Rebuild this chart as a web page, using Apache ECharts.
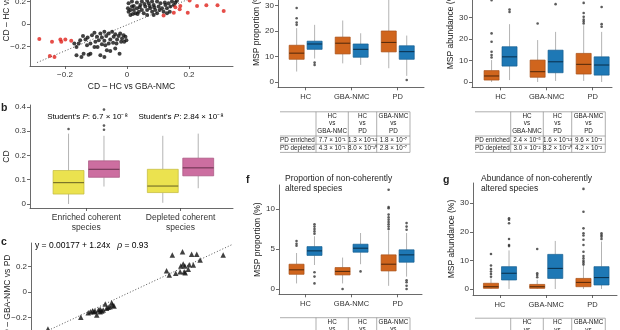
<!DOCTYPE html>
<html>
<head>
<meta charset="utf-8">
<script src="https://cdn.jsdelivr.net/npm/echarts@6/dist/echarts.min.js"></script>
<style>
  html, body { margin: 0; padding: 0; background: #fff; }
  #chart { width: 620px; height: 330px; }
</style>
</head>
<body>
<div id="chart"></div>
<script>
const FONT = '"Liberation Sans", Arial, Helvetica, sans-serif';

// ---------- panel a: CD per species, HC vs GBA-NMC (x) against HC vs PD (y) ----------
const aBlackPts = [
  [-0.170,-0.173],[-0.163,-0.203],[-0.156,-0.173],[-0.151,-0.143],[-0.142,-0.107],[-0.134,-0.137],
  [-0.127,-0.119],[-0.118,-0.173],[-0.113,-0.099],[-0.105,-0.078],[-0.097,-0.113],[-0.091,-0.143],
  [-0.086,-0.084],[-0.081,-0.119],[-0.073,-0.069],[-0.067,-0.107],[-0.059,-0.084],[-0.054,-0.137],
  [-0.048,-0.069],[-0.043,-0.113],[-0.038,-0.090],[-0.032,-0.137],[-0.027,-0.107],[-0.022,-0.084],
  [-0.016,-0.128],[-0.011,-0.099],[-0.005,-0.113],[-0.002,-0.143],[-0.009,-0.158],[-0.019,-0.158],
  [-0.034,-0.173],[-0.045,-0.167],[-0.059,-0.173],[-0.070,-0.188],[-0.081,-0.179],[-0.095,-0.203],
  [-0.105,-0.203],[-0.118,-0.263],[-0.140,-0.263],[-0.163,-0.278],[-0.147,-0.293],[-0.124,-0.272],
  [-0.086,-0.278],[-0.073,-0.293],[-0.054,-0.239],[-0.024,-0.263],[-0.065,-0.233],[-0.038,-0.218],
  [-0.073,-0.149],[-0.102,-0.158],[-0.129,-0.188],
  [0.003,0.140],[0.005,0.110],[0.011,0.081],[0.016,0.155],[0.022,0.125],[0.027,0.096],[0.032,0.140],
  [0.038,0.110],[0.043,0.170],[0.048,0.125],[0.054,0.096],[0.059,0.155],[0.065,0.125],[0.070,0.185],
  [0.075,0.140],[0.081,0.110],[0.086,0.170],[0.091,0.125],[0.097,0.096],[0.102,0.155],[0.108,0.185],
  [0.113,0.140],[0.118,0.110],[0.124,0.170],[0.129,0.140],[0.134,0.185],[0.140,0.155],[0.145,0.200],
  [0.151,0.170],[0.156,0.191],[0.161,0.206],[0.097,0.200],[0.081,0.200],[0.065,0.206],[0.048,0.200],
  [0.032,0.191],[0.016,0.200],[0.005,0.185],[0.019,0.090],[0.034,0.090],[0.065,0.081],[0.086,0.081],
  [0.129,0.096],[0.138,0.110],[0.011,0.125],[0.022,0.161],[0.041,0.149],[0.056,0.179],[0.073,0.161],
  [0.088,0.149],[0.105,0.125],[0.122,0.191]
];
const aRedPts = [
  [-0.283,-0.134],[-0.242,-0.158],[-0.215,-0.137],[-0.212,-0.158],[-0.199,-0.137],[-0.180,-0.149],
  [-0.249,-0.284],[-0.234,-0.293],
  [0.118,0.075],[0.151,0.101],[0.156,0.149],[0.172,0.161],[0.170,0.131],[0.196,0.101],[0.202,0.209],
  [0.226,0.161],[0.256,0.167],[0.292,0.167],[0.312,0.116]
];
const aTrend = [[-0.29, -0.342], [0.21, 0.234]];

// ---------- panel b: CD of coherent species ----------
const bCats = ['Enriched coherent\nspecies', 'Depleted coherent\nspecies'];
const bPvalues = ['6.7 × 10⁻⁸', '2.84 × 10⁻⁸'];
// [min, Q1, median, Q3, max]
const bYellow = [[0.000, 0.041, 0.088, 0.138, 0.290], [0.005, 0.047, 0.074, 0.143, 0.281]];
const bYellowOut = [[0.309], []];
const bPink = [[0.072, 0.110, 0.143, 0.178, 0.281], [0.065, 0.116, 0.149, 0.189, 0.290]];
const bPinkOut = [[0.306, 0.323, 0.389], []];

// ---------- panel c: CD GBA-NMC vs PD ----------
const cPts = [
  [-0.245,-0.290],
  [-0.148,-0.198],[-0.126,-0.162],[-0.119,-0.154],[-0.113,-0.146],[-0.109,-0.154],[-0.106,-0.149],
  [-0.101,-0.180],[-0.096,-0.141],[-0.091,-0.154],[-0.091,-0.136],[-0.086,-0.149],[-0.082,-0.141],
  [-0.076,-0.094],[-0.072,-0.128],[-0.067,-0.120],[-0.062,-0.115],[-0.057,-0.084],[-0.054,-0.102],
  [-0.050,-0.110],
  [0.105,0.167],[0.113,0.133],[0.122,0.290],[0.132,0.147],[0.145,0.159],[0.147,0.204],[0.152,0.316],
  [0.154,0.220],[0.157,0.159],[0.159,0.204],[0.160,0.150],[0.169,0.178],[0.172,0.214],[0.179,0.296],
  [0.184,0.212],[0.194,0.296],[0.204,0.251],[0.272,0.290]
];
const cFit = { intercept: 0.00177, slope: 1.24, rho: 0.93 };

// ---------- panels d-g: MSP proportion / abundance per group ----------
const groups = ['HC', 'GBA-NMC', 'PD'];
// PD-enriched (orange) and PD-depleted (blue) species, [min, Q1, median, Q3, max]
const dEnr = [[4.1, 8.9, 11.3, 14.4, 21.1], [7.3, 11.0, 15.2, 17.6, 24.1], [5.4, 11.8, 15.5, 20.0, 34.0]];
const dEnrOut = [[22.4, 23.3, 25.0, 29.0], [], []];
const dDep = [[9.2, 12.8, 14.9, 16.0, 22.4], [6.7, 9.7, 12.8, 14.9, 19.1], [2.4, 8.9, 11.9, 14.2, 18.2]];
const dDepOut = [[7.6, 6.7], [], [0.8]];

const eEnr = [[0.0, 0.9, 2.8, 5.3, 10.2], [0.0, 2.2, 4.8, 10.2, 19.5], [0.5, 3.7, 8.2, 13.3, 26.4]];
const eEnrOut = [[11.4, 12.5, 14.1, 18.7, 22.6, 38.0], [27.2], [27.2, 28.1, 29.0, 30.3, 32.1, 36.8]];
const eDep = [[0.9, 7.4, 11.7, 16.4, 26.9], [0.5, 4.3, 9.4, 14.8, 23.3], [0.0, 3.2, 7.9, 11.7, 23.3]];
const eDepOut = [[32.6, 33.7], [36.2], [25.7, 26.9, 34.9]];

const fEnr = [[0.7, 1.84, 2.4, 3.1, 4.5], [0.7, 1.76, 2.2, 2.68, 3.93], [0.4, 2.26, 3.1, 4.27, 7.3]];
const fEnrOut = [[5.4, 5.65, 6.0], [0.0], [7.5, 7.8, 8.1, 8.37, 8.66, 8.95, 9.3, 10.1, 10.25, 12.4]];
const fDep = [[3.0, 4.2, 4.77, 5.3, 6.6], [3.1, 4.6, 5.1, 5.6, 7.0], [1.55, 3.35, 4.27, 4.9, 7.0]];
const fDepOut = [[0.7, 1.55, 2.1, 6.9, 7.2, 7.5, 7.8, 8.1], [2.2], [0.0, 0.4, 0.85, 1.1, 7.4, 7.8, 8.24]];

const gEnr = [[0.0, 0.23, 0.8, 2.0, 3.7], [0.0, 0.23, 0.8, 1.6, 3.2], [0.0, 0.8, 2.3, 3.7, 8.4]];
const gEnrOut = [[4.3, 5.25, 6.1, 7.0, 8.2, 12.25], [4.1, 4.9, 5.5, 14.0],
  [8.6, 9.3, 9.9, 10.7, 11.5, 13.0, 15.4, 17.2, 18.7, 19.5, 21.2, 27.0, 35.0]];
const gDep = [[0.0, 3.15, 5.5, 7.8, 13.5], [0.0, 3.7, 7.2, 12.1, 16.8], [0.0, 1.4, 4.0, 7.8, 16.6]];
const gDepOut = [[15.0, 15.4, 17.5, 23.0, 24.2, 24.7], [], [17.5, 18.3, 18.9, 19.5]];

// ---------- tables of P values ----------
const tableCols = [['HC', 'vs', 'GBA-NMC'], ['HC', 'vs', 'PD'], ['GBA-NMC', 'vs', 'PD']];
const tableRows = ['PD enriched', 'PD depleted'];
const dPvals = [['7.7 × 10⁻¹', '1.3 × 10⁻¹¹', '1.8 × 10⁻⁷'], ['4.3 × 10⁻¹', '8.0 × 10⁻¹⁰', '2.8 × 10⁻⁷']];
const ePvals = [['2.4 × 10⁻⁵', '1.6 × 10⁻¹³', '9.6 × 10⁻²'], ['3.0 × 10⁻²', '8.2 × 10⁻¹⁰', '4.2 × 10⁻²']];

// ---------- styling ----------
const ORANGE = { fill: '#d0651d', stroke: '#a84f16', median: '#5a2c0c' };
const BLUE = { fill: '#1e78b5', stroke: '#155f90', median: '#0b3452' };
const YELLOW = { fill: '#ebe24f', stroke: '#c2b93c', median: '#6f6a26' };
const PINK = { fill: '#cc6ea0', stroke: '#a8557f', median: '#6e3452' };
const AXIS_COLOR = '#444';

function numFmt(v) {
  if (v === 0) return '0';
  return (v < 0 ? '−' : '') + String(Math.abs(v));
}

function makeAxis(gridIndex, min, max, ticks, o) {
  o = o || {};
  return {
    type: 'value', gridIndex: gridIndex, min: min, max: max,
    splitLine: { show: false },
    axisLine: { show: true, onZero: false, lineStyle: { color: AXIS_COLOR, width: 0.8 } },
    axisTick: { show: o.ticks !== false, length: 3, lineStyle: { color: AXIS_COLOR, width: 0.8 }, customValues: ticks },
    axisLabel: {
      show: o.labels !== false, customValues: ticks, formatter: o.fmt || numFmt,
      color: '#333', fontSize: o.fontSize || 8, fontFamily: FONT,
      margin: o.margin != null ? o.margin : 4, lineHeight: o.lineHeight || 10
    },
    name: o.name || '', nameLocation: 'middle', nameGap: o.nameGap || 19,
    nameRotate: o.nameRotate || 0, nameMoveOverlap: false,
    nameTextStyle: { fontSize: 8.5, color: '#222', fontFamily: FONT }
  };
}

function boxRenderer(c, halfW) {
  return function (params, api) {
    const x = api.value(0);
    const pMin = api.coord([x, api.value(1)]);
    const pQ1 = api.coord([x, api.value(2)]);
    const pMed = api.coord([x, api.value(3)]);
    const pQ3 = api.coord([x, api.value(4)]);
    const pMax = api.coord([x, api.value(5)]);
    const w = api.size([halfW * 2, 0])[0];
    const cx = pQ1[0];
    const whisk = { stroke: '#a0a0a0', lineWidth: 0.8 };
    return {
      type: 'group',
      children: [
        { type: 'line', shape: { x1: cx, y1: pMin[1], x2: cx, y2: pQ1[1] }, style: whisk },
        { type: 'line', shape: { x1: cx, y1: pQ3[1], x2: cx, y2: pMax[1] }, style: whisk },
        { type: 'rect', shape: { x: cx - w / 2, y: pQ3[1], width: w, height: pQ1[1] - pQ3[1] },
          style: { fill: c.fill, stroke: c.stroke, lineWidth: 0.7 } },
        { type: 'line', shape: { x1: cx - w / 2, y1: pMed[1], x2: cx + w / 2, y2: pMed[1] },
          style: { stroke: c.median, lineWidth: 1.1 } }
      ]
    };
  };
}

function boxSeries(idx, positions, stats, c, halfW) {
  return {
    type: 'custom', xAxisIndex: idx, yAxisIndex: idx, z: 2, silent: true,
    data: stats.map(function (s, i) { return [positions[i]].concat(s); }),
    encode: { x: 0, y: [1, 2, 3, 4, 5] },
    renderItem: boxRenderer(c, halfW)
  };
}

function outlierSeries(idx, positions, outs) {
  const pts = [];
  outs.forEach(function (arr, i) { arr.forEach(function (v) { pts.push([positions[i], v]); }); });
  return {
    type: 'scatter', xAxisIndex: idx, yAxisIndex: idx, z: 3, silent: true,
    data: pts, symbolSize: 2.6, itemStyle: { color: '#333' }
  };
}

// ---------- layout ----------
const grids = [
  { left: 30, top: -42, width: 203, height: 108 },   // a
  { left: 30, top: 105, width: 203, height: 103 },   // b
  { left: 31, top: 243, width: 202, height: 110 },   // c
  { left: 278, top: -30, width: 146, height: 117.3 },// d
  { left: 472, top: -27, width: 140, height: 114.3 },// e
  { left: 279, top: 185, width: 143, height: 109.3 },// f
  { left: 473, top: 183, width: 144, height: 112 }   // g
].map(function (g) { return Object.assign({ outerBoundsMode: 'none', containLabel: false }, g); });

const groupFmt = function (v) { return groups[Math.round(v) - 1]; };

const xAxes = [
  makeAxis(0, -0.313, 0.342, [-0.2, 0, 0.2], { name: 'CD – HC vs GBA-NMC', nameGap: 16 }),
  makeAxis(1, 0.403, 2.557, [1, 2], { fmt: function (v) { return bCats[Math.round(v) - 1]; }, fontSize: 8.5, margin: 5, lineHeight: 10 }),
  makeAxis(2, -0.295, 0.301, [-0.2, 0, 0.2], { labels: false }),
  makeAxis(3, 0.4, 3.57, [1, 2, 3], { fmt: groupFmt, fontSize: 7.5, margin: 5 }),
  makeAxis(4, 0.38, 3.42, [1, 2, 3], { fmt: groupFmt, fontSize: 7.5, margin: 5 }),
  makeAxis(5, 0.424, 3.53, [1, 2, 3], { fmt: groupFmt, fontSize: 7.5, margin: 5 }),
  makeAxis(6, 0.416, 3.53, [1, 2, 3], { fmt: groupFmt, fontSize: 7.5, margin: 5 })
];
const yAxes = [
  makeAxis(0, -0.373, 0.587, [-0.2, 0, 0.2], { name: 'CD – HC vs PD', nameRotate: 90 }),
  makeAxis(1, -0.0165, 0.408, [0, 0.1, 0.2, 0.3, 0.4], { name: 'CD', nameRotate: 90 }),
  makeAxis(2, -0.478, 0.384, [-0.2, 0, 0.2], { name: 'CD – GBA-NMC vs PD', nameRotate: 90 }),
  makeAxis(3, -2.08, 43.9, [0, 10, 20, 30], { name: 'MSP proportion (%)', nameRotate: 90, nameGap: 17 }),
  makeAxis(4, -2.47, 50.7, [0, 10, 20, 30], { name: 'MSP abundance (%)', nameRotate: 90, nameGap: 17 }),
  makeAxis(5, -0.66, 13, [0, 5, 10], { name: 'MSP proportion (%)', nameRotate: 90, nameGap: 17 }),
  makeAxis(6, -2.1, 37.06, [0, 10, 20, 30], { name: 'MSP abundance (%)', nameRotate: 90, nameGap: 17 })
];

// ---------- series ----------
const series = [];
series.push({ type: 'line', xAxisIndex: 0, yAxisIndex: 0, data: aTrend, symbol: 'none', silent: true, z: 1,
  lineStyle: { type: [1, 2], color: '#555', width: 1 } });
series.push({ type: 'scatter', xAxisIndex: 0, yAxisIndex: 0, data: aBlackPts, symbolSize: 4, itemStyle: { color: '#111' }, z: 2 });
series.push({ type: 'scatter', xAxisIndex: 0, yAxisIndex: 0, data: aRedPts, symbolSize: 4, itemStyle: { color: '#e0221b' }, z: 2 });

const bOff = 0.188, bHalf = 0.164;
series.push(boxSeries(1, [1 - bOff, 2 - bOff], bYellow, YELLOW, bHalf));
series.push(boxSeries(1, [1 + bOff, 2 + bOff], bPink, PINK, bHalf));
series.push(outlierSeries(1, [1 - bOff, 2 - bOff], bYellowOut));
series.push(outlierSeries(1, [1 + bOff, 2 + bOff], bPinkOut));

const cLine = [-0.3, 0.3].map(function (x) { return [x, cFit.intercept + cFit.slope * x]; });
series.push({ type: 'line', xAxisIndex: 2, yAxisIndex: 2, data: cLine, symbol: 'none', silent: true, z: 1,
  lineStyle: { type: [1, 2], color: '#555', width: 1 } });
series.push({ type: 'scatter', xAxisIndex: 2, yAxisIndex: 2, data: cPts, symbol: 'triangle', symbolSize: 5.5, itemStyle: { color: '#111' }, z: 2 });

const OFF = 0.195, HALF = 0.163;
const enrPos = [1 - OFF, 2 - OFF, 3 - OFF];
const depPos = [1 + OFF, 2 + OFF, 3 + OFF];
[[3, dEnr, dEnrOut, dDep, dDepOut], [4, eEnr, eEnrOut, eDep, eDepOut],
 [5, fEnr, fEnrOut, fDep, fDepOut], [6, gEnr, gEnrOut, gDep, gDepOut]].forEach(function (p) {
  series.push(boxSeries(p[0], enrPos, p[1], ORANGE, HALF));
  series.push(boxSeries(p[0], depPos, p[3], BLUE, HALF));
  series.push(outlierSeries(p[0], enrPos, p[2]));
  series.push(outlierSeries(p[0], depPos, p[4]));
});

// ---------- text and tables ----------
function txt(x, y, text, align, size, weight) {
  const font = (weight ? weight + ' ' : '') + (size || 8.5) + 'px ' + FONT;
  return { type: 'text', x: x, y: y, silent: true,
    style: { text: text, fill: '#222', font: font, align: align || 'left', verticalAlign: 'middle',
      textAlign: align || 'left', textVerticalAlign: 'middle' } };
}

function richP(x, y, pval) {
  const base = { fontSize: 8, fontFamily: FONT, color: '#222' };
  return { type: 'text', x: x, y: y, silent: true,
    style: { text: "{n|Student's }{i|P}{n|: " + pval + '}',
      rich: { n: base, i: Object.assign({ fontStyle: 'italic' }, base) },
      align: 'center', verticalAlign: 'middle', textAlign: 'center', textVerticalAlign: 'middle' } };
}

function tableGraphics(edges, top, pvals) {
  const els = [];
  const rule = function (x1, y1, x2, y2) {
    els.push({ type: 'line', silent: true, shape: { x1: x1, y1: y1, x2: x2, y2: y2 },
      style: { stroke: '#8c8c8c', lineWidth: 0.7 } });
  };
  [0, 24.2, 32.4, 40.6].forEach(function (dy) { rule(edges[0], top + dy, edges[4], top + dy); });
  for (let k = 1; k < 5; k++) rule(edges[k], top, edges[k], top + 40.6);
  tableCols.forEach(function (col, c) {
    const cx = (edges[c + 1] + edges[c + 2]) / 2;
    col.forEach(function (t, r) { els.push(txt(cx, top + 4.3 + r * 7.6, t, 'center', 6.3)); });
  });
  tableRows.forEach(function (name, r) {
    const y = top + 28.3 + r * 8.1;
    els.push(txt(edges[0], y, name, 'left', 6.3));
    if (pvals) {
      pvals[r].forEach(function (p, c) {
        els.push(txt((edges[c + 1] + edges[c + 2]) / 2, y, p, 'center', 6.3));
      });
    }
  });
  return els;
}

const eq = { type: 'text', x: 35, y: 246, silent: true,
  style: { text: '{n|y = ' + cFit.intercept + ' + ' + cFit.slope + 'x   }{i|ρ}{n| = ' + cFit.rho + '}',
    rich: { n: { fontSize: 8.5, fontFamily: FONT, color: '#222' },
            i: { fontSize: 8.5, fontFamily: FONT, color: '#222', fontStyle: 'italic' } },
    align: 'left', verticalAlign: 'middle', textAlign: 'left', textVerticalAlign: 'middle' } };

const graphics = [
  txt(1, 108.5, 'b', 'left', 10.5, 'bold'),
  txt(1, 242, 'c', 'left', 10.5, 'bold'),
  txt(246, 180, 'f', 'left', 10.5, 'bold'),
  txt(443, 180.5, 'g', 'left', 10.5, 'bold'),
  richP(87.5, 117, bPvalues[0]),
  richP(181, 117, bPvalues[1]),
  eq,
  txt(285, 179, 'Proportion of non-coherently', 'left', 8.5),
  txt(285, 189, 'altered species', 'left', 8.5),
  txt(481, 179, 'Abundance of non-coherently', 'left', 8.5),
  txt(481, 188.5, 'altered species', 'left', 8.5)
].concat(
  tableGraphics([280, 316, 348.3, 376.7, 410], 111.8, dPvals),
  tableGraphics([475, 510.7, 543.3, 571.7, 605.3], 111.8, ePvals),
  tableGraphics([280, 316, 348.3, 376.7, 410], 317.7, null),
  tableGraphics([475, 510.7, 543.3, 571.7, 605.3], 318.2, null)
);

const chart = echarts.init(document.getElementById('chart'), null, { renderer: 'canvas', width: 620, height: 330 });
chart.setOption({
  animation: false,
  backgroundColor: '#ffffff',
  textStyle: { fontFamily: FONT },
  grid: grids,
  xAxis: xAxes,
  yAxis: yAxes,
  series: series,
  graphic: { elements: graphics }
});
</script>
</body>
</html>
